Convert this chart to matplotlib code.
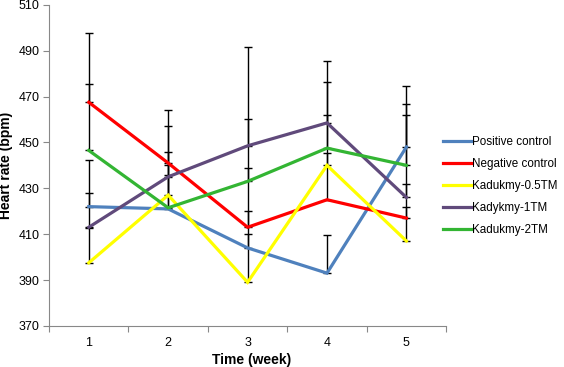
import matplotlib
matplotlib.use("Agg")
import matplotlib.pyplot as plt
import numpy as np

plt.rcParams['font.family'] = ['Liberation Sans', 'DejaVu Sans']

weeks = [1, 2, 3, 4, 5]
labels = ['Positive control', 'Negative control', 'Kadukmy-0.5TM', 'Kadykmy-1TM', 'Kadukmy-2TM']
colors = ['#4F81BD', '#FF0000', '#FFFF00', '#604A7B', '#33B533']

positive = [422, 421, 404, 393, 448]
negative = [467.5, 441, 413, 425, 417]
kad05 = [397.5, 427, 389, 440, 407]
kad1 = [413, 435, 448.5, 458.5, 426]
kad2 = [446.5, 421.5, 433, 447.5, 440]

err_positive = [20.5, 15, 16, 16.7, 26.7]
err_negative = [30, 23, 26, 20.5, 15]
err_kad05 = [15, 19, 21, 22, 15]
err_kad1 = [15, 22, 43, 27, 36]
err_kad2 = [29, 18.5, 27, 29, 26.6]

series = [positive, negative, kad05, kad1, kad2]
errors = [err_positive, err_negative, err_kad05, err_kad1, err_kad2]

fig = plt.figure(figsize=(5.64, 3.67), dpi=100)
ax = fig.add_axes([0.087, 0.112, 0.704, 0.875])

for vals, errs in zip(series, errors):
    ax.errorbar(weeks, vals, yerr=[np.zeros(len(errs)), errs], fmt='none',
                ecolor='black', elinewidth=1, capsize=3, capthick=1, zorder=2)

for vals, lab, col in zip(series, labels, colors):
    ax.plot(weeks, vals, color=col, lw=2.3, label=lab, zorder=3,
            solid_joinstyle='miter')

ax.set_xlim(0.5, 5.5)
ax.set_ylim(370, 510)
ax.set_yticks(np.arange(370, 511, 20))
ax.set_xticks(weeks)
ax.set_xticks(np.arange(0.5, 5.6, 1), minor=True)
ax.tick_params(axis='x', which='major', length=0, labelsize=9, pad=8)
ax.tick_params(axis='x', which='minor', length=4, color='#888888', width=0.8)
ax.tick_params(axis='y', length=4, color='#888888', width=0.8, labelsize=9, pad=3)

for s in ['top', 'right']:
    ax.spines[s].set_visible(False)
for s in ['left', 'bottom']:
    ax.spines[s].set_color('#888888')
    ax.spines[s].set_linewidth(0.8)

ax.set_xlabel('Time (week)', fontsize=10, fontweight='bold')
ax.set_ylabel('Heart rate (bpm)', fontsize=10, fontweight='bold', labelpad=4)
ax.xaxis.set_label_coords(0.51, -0.085)

ax.legend(loc='center left', bbox_to_anchor=(0.98, 0.435), frameon=False,
          fontsize=8.4, handlelength=2.5, handletextpad=0.0, labelspacing=0.85,
          borderaxespad=0)

fig.savefig('out.png', dpi=100)
